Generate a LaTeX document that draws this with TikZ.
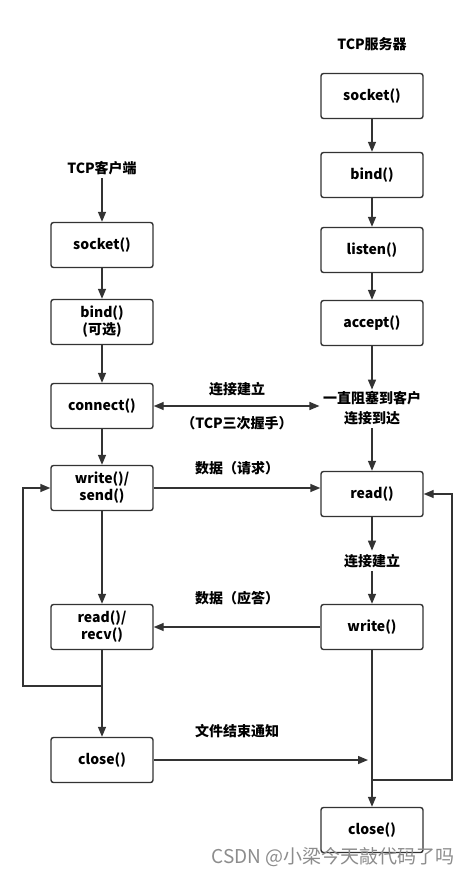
\documentclass[tikz,border=0pt]{standalone}
\usepackage{fontspec}
\setmainfont{Noto Sans CJK SC}
\newfontfamily\markfont{Noto Sans CJK SC}
\usetikzlibrary{arrows.meta}

\tikzset{
  callbox/.style={draw=black!80, line width=1.4pt, rounded corners=2.5pt,
    minimum width=102pt, minimum height=45pt, align=center,
    font=\fontsize{14}{17}\selectfont\bfseries},
  tag/.style={align=center, font=\fontsize{14}{20}\selectfont\bfseries},
  flow/.style={draw=black!80, line width=1.4pt,
    -{Triangle[length=10pt,width=8pt]}},
  both/.style={flow, {Triangle[length=10pt,width=8pt]}-{Triangle[length=10pt,width=8pt]}},
  wire/.style={draw=black!80, line width=1.4pt}
}

\begin{document}
\begin{tikzpicture}[x=1pt, y=-1pt]
  \useasboundingbox (0,0) rectangle (474,876);

  % Client:
  %   left column
  \node[tag] (clientTitle) at (102,168) {TCP客户端};
  \node[callbox] (cSocket)  at (102,245) {socket()};
  \node[callbox] (cBind)    at (102,322) {bind()\\(可选)};
  \node[callbox] (cConnect) at (102,406) {connect()};
  \node[callbox] (cWrite)   at (102,488) {write()/\\send()};
  \node[callbox] (cRead)    at (102,627) {read()/\\recv()};
  \node[callbox] (cClose)   at (102,760) {close()};

  % Server:
  %   right column
  \node[tag] (serverTitle) at (372,44) {TCP服务器};
  \node[callbox] (sSocket) at (372,96)  {socket()};
  \node[callbox] (sBind)   at (372,175) {bind()};
  \node[callbox] (sListen) at (372,250) {listen()};
  \node[callbox] (sAccept) at (372,323) {accept()};
  \node[tag] (sBlock) at (372,408) {一直阻塞到客户\\连接到达};
  \node[callbox] (sRead)  at (372,494) {read()};
  \node[tag] (sLinked) at (372,561) {连接建立};
  \node[callbox] (sWrite) at (372,627) {write()};
  \node[callbox] (sClose) at (372,830) {close()};

  % messages between both sides
  \node[tag] (linkUp)   at (237,389) {连接建立};
  \node[tag] (handshake) at (237,423) {（TCP三次握手）};
  \node[tag] (request)  at (237,468) {数据（请求）};
  \node[tag] (reply)    at (237,598) {数据（应答）};
  \node[tag] (finish)   at (237,731) {文件结束通知};

  % loop corners
  \coordinate (cLoop) at (102,686);
  \coordinate (sLoop) at (372,780);
  \coordinate (finEnd) at (368,760);

  % client flow
  \draw[flow] (clientTitle) -- (cSocket);
  \draw[flow] (cSocket) -- (cBind);
  \draw[flow] (cBind) -- (cConnect);
  \draw[flow] (cConnect) -- (cWrite);
  \draw[flow] (cWrite) -- (cRead);
  \draw[flow] (cRead) -- (cClose);
  \draw[flow] (cLoop) -- (23,686) |- (cWrite.west);

  % server flow
  \draw[flow] (sSocket) -- (sBind);
  \draw[flow] (sBind) -- (sListen);
  \draw[flow] (sListen) -- (sAccept);
  \draw[flow] (sAccept.south) -- ([yshift=-2pt]sBlock.north);
  \draw[flow] (sBlock) -- (sRead);
  \draw[flow] (sRead) -- (sLinked);
  \draw[flow] (sLinked) -- (sWrite);
  \draw[flow] (sWrite) -- (sClose);
  \draw[flow] (sLoop) -- (452,780) |- (sRead.east);

  % data between client and server
  \draw[both] (cConnect.east) -- (cConnect.east -| sBlock.west);
  \draw[flow] (cWrite.east) -- (cWrite.east -| sRead.west);
  \draw[flow] (sWrite.west) -- (cRead.east);
  \draw[flow] (cClose.east) -- (finEnd);

  % watermark
  \node[text=black!45, font=\markfont\fontsize{19}{20}\selectfont] (mark) at (333,857) {CSDN @小梁今天敲代码了吗};
\end{tikzpicture}
\end{document}
